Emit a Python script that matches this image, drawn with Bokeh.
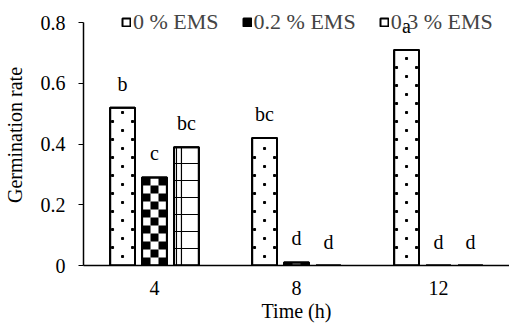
import math
from bokeh.plotting import figure
from bokeh.models import ColumnDataSource, FactorRange, Range1d, Legend
from bokeh.transform import dodge
from bokeh.core.properties import value
from bokeh.embed import file_html
from bokeh.resources import INLINE

# ---- data ----
times = ["4", "8", "12"]
ems_0 = [0.52, 0.42, 0.71]
ems_02 = [0.29, 0.01, 0.0]
ems_03 = [0.39, 0.0, 0.0]
letters_0 = ["b", "bc", "a"]
letters_02 = ["c", "d", "d"]
letters_03 = ["bc", "d", "d"]
series_names = ["0 % EMS", "0.2 % EMS", "0.3 % EMS"]
y_ticks = [0, 0.2, 0.4, 0.6, 0.8]
y_tick_labels = ["0", "0.2", "0.4", "0.6", "0.8"]

FONT = "Liberation Serif"

# ---- layout ----
W, H = 509, 329
BL, BR, BT, BB = 83, 0, 4, 64
Y_END = 0.86
FRAME_W = W - BL - BR
FRAME_H = H - BT - BB
PX_X = len(times) / FRAME_W      # category units per pixel
PX_Y = Y_END / FRAME_H           # y units per pixel

off = 0.225
bw = 0.175

# ---- pattern pieces derived from the values ----
def checker_sources(vals, cell_px=8):
    hy = cell_px * PX_Y
    srcs = {c: dict(t=[], b=[], top=[]) for c in (-1, 0, 1)}
    for t, v in zip(times, vals):
        n = math.ceil(v / hy - 1e-9)
        for r in range(n):
            for c in (-1, 0, 1):
                if (r + c) % 2 == 1:
                    srcs[c]["t"].append(t)
                    srcs[c]["b"].append(r * hy)
                    srcs[c]["top"].append(min((r + 1) * hy, v))
    return srcs


def dot_sources(vals, step_px=9):
    centre = dict(t=[], y=[])
    sides = dict(t=[], y=[])
    for t, v in zip(times, vals):
        k = 1
        while k * step_px < v / PX_Y - 3:
            d = centre if k % 2 == 1 else sides
            d["t"].append(t)
            d["y"].append(k * step_px * PX_Y)
            k += 1
    return centre, sides


def grid_sources(vals, step_px=17):
    hl = dict(t=[], y=[])
    vl = dict(t=[], top=[])
    for t, v in zip(times, vals):
        if v <= 0:
            continue
        vl["t"].append(t)
        vl["top"].append(v)
        k = 1
        while k * step_px < v / PX_Y - 1:
            hl["t"].append(t)
            hl["y"].append(k * step_px * PX_Y)
            k += 1
    return hl, vl


src = ColumnDataSource(dict(t=times, v0=ems_0, v2=ems_02, v3=ems_03,
                            l0=letters_0, l2=letters_02, l3=letters_03))

p = figure(x_range=FactorRange(*times), y_range=Range1d(0, Y_END),
           width=W, height=H, output_backend="svg", toolbar_location=None,
           min_border_left=BL, min_border_right=BR, min_border_top=BT, min_border_bottom=BB)

xr = p.x_range
bar_kw = dict(width=bw, source=src, fill_color="white", line_color="black", line_width=2)
r0 = p.vbar(x=dodge("t", -off, range=xr), top="v0", **bar_kw)
r2 = p.vbar(x=dodge("t", 0, range=xr), top="v2", **bar_kw)
r3 = p.vbar(x=dodge("t", off, range=xr), top="v3", **bar_kw)

# dotted fill (0 % EMS)
centre, sides = dot_sources(ems_0)
p.scatter(x=dodge("t", -off, range=xr), y="y", source=ColumnDataSource(centre),
          marker="square", size=2, color="black")
sides_src = ColumnDataSource(sides)
for dx in (-10, 10):
    p.scatter(x=dodge("t", -off + dx * PX_X, range=xr), y="y", source=sides_src,
              marker="square", size=2, color="black")

# checker fill (0.2 % EMS)
sq_renderers = []
for c, d in checker_sources(ems_02).items():
    sq_renderers.append(p.vbar(x=dodge("t", c * 8 * PX_X, range=xr), bottom="b", top="top",
                               width=8 * PX_X, source=ColumnDataSource(d),
                               fill_color="black", line_color=None))

# grid fill (0.3 % EMS)
hl, vl = grid_sources(ems_03)
p.segment(x0=dodge("t", off - 12 * PX_X, range=xr), x1=dodge("t", off + 12 * PX_X, range=xr),
          y0="y", y1="y", source=ColumnDataSource(hl), line_color="black", line_width=1.2)
vl_src = ColumnDataSource(vl)
for dx in (-10, -5):
    p.segment(x0=dodge("t", off + dx * PX_X, range=xr), x1=dodge("t", off + dx * PX_X, range=xr),
              y0=0, y1="top", source=vl_src, line_color="black", line_width=1.2)

# outlines on top
out_kw = dict(width=bw, source=src, fill_alpha=0, line_color="black", line_width=2)
p.vbar(x=dodge("t", -off, range=xr), top="v0", **out_kw)
p.vbar(x=dodge("t", 0, range=xr), top="v2", **out_kw)
p.vbar(x=dodge("t", off, range=xr), top="v3", **out_kw)

for col, lab, dx in [("v0", "l0", -off), ("v2", "l2", 0), ("v3", "l3", off)]:
    p.text(x=dodge("t", dx, range=xr), y=col, text=lab, source=src,
           y_offset=-24, text_align="center", text_baseline="middle",
           text_font=value(FONT), text_font_size="20px", text_color="black")

legend = Legend(items=[(series_names[0], [r0]), (series_names[1], [r2, sq_renderers[1]]),
                       (series_names[2], [r3])],
                orientation="horizontal", location=(38, 230),
                glyph_width=10, glyph_height=10, label_standoff=2, spacing=23,
                padding=0, margin=0, border_line_color=None, background_fill_alpha=0,
                label_text_font=FONT, label_text_font_size="22px", label_height=26)
p.add_layout(legend, "center")

p.xgrid.grid_line_color = None
p.ygrid.grid_line_color = None
p.outline_line_color = None

p.yaxis.ticker = y_ticks
p.yaxis.major_label_overrides = dict(zip(y_ticks, y_tick_labels))
p.yaxis.bounds = (y_ticks[0], y_ticks[-1])
p.yaxis.minor_tick_line_color = None
p.yaxis.major_tick_out = 5
p.yaxis.major_tick_in = 0
p.yaxis.major_label_standoff = 13
p.yaxis.axis_label = "Germination rate"
p.yaxis.axis_label_standoff = 12

p.xaxis.major_tick_line_color = None
p.xaxis.major_tick_out = 0
p.xaxis.major_label_standoff = 15
p.xaxis.axis_label = "Time (h)"
p.xaxis.axis_label_standoff = 2

for ax in (p.xaxis, p.yaxis):
    ax.axis_line_color = "black"
    ax.axis_line_width = 1.5
    ax.major_label_text_font = FONT
    ax.major_label_text_font_size = "20px"
    ax.major_label_text_color = "black"
    ax.axis_label_text_font = FONT
    ax.axis_label_text_font_size = "20px"
    ax.axis_label_text_font_style = "normal"
    ax.axis_label_text_color = "black"

open("out.html", "w").write(file_html(p, INLINE))
